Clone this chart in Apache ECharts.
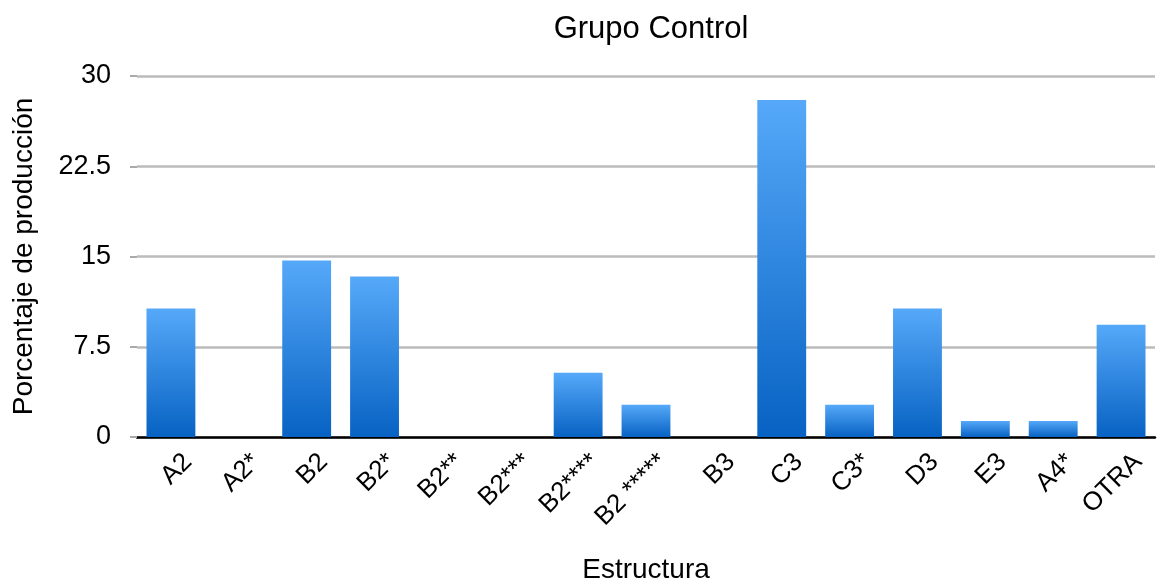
<!DOCTYPE html>
<html>
<head>
<meta charset="utf-8">
<script src="https://cdn.jsdelivr.net/npm/echarts@6/dist/echarts.min.js"></script>
<style>
  html, body { margin: 0; padding: 0; background: #ffffff; }
  #chart { width: 1158px; height: 585px; }
</style>
</head>
<body>
<div id="chart"></div>
<script>
// Structure categories and production share (%) for the control group
const categories = ['A2', 'A2*', 'B2', 'B2*', 'B2**', 'B2***', 'B2****', 'B2 *****', 'B3', 'C3', 'C3*', 'D3', 'E3', 'A4*', 'OTRA'];
const percentages = [10.67, 0, 14.67, 13.33, 0, 0, 5.33, 2.67, 0, 28, 2.67, 10.67, 1.33, 1.33, 9.33];
const yTicks = [0, 7.5, 15, 22.5, 30];

const font = 'Liberation Sans, Arial, sans-serif';
const chart = echarts.init(document.getElementById('chart'), null, { renderer: 'canvas' });

chart.setOption({
  animation: false,
  title: {
    text: 'Grupo Control',
    left: 646,
    top: 9,
    textAlign: 'center',
    textStyle: { fontFamily: font, fontSize: 31, fontWeight: 'normal', color: '#000' }
  },
  grid: { left: 137, right: 3, top: 76, bottom: 148, containLabel: false, outerBoundsMode: 'none' },
  xAxis: {
    type: 'category',
    data: categories,
    name: 'Estructura',
    nameLocation: 'middle',
    nameGap: 119,
    nameTextStyle: { fontFamily: font, fontSize: 28, color: '#000' },
    axisLine: { lineStyle: { color: '#000', width: 2.5 } },
    axisTick: { show: false },
    axisLabel: {
      rotate: 45,
      margin: 4,
      interval: 0,
      fontFamily: font,
      fontSize: 26,
      color: '#000',
      verticalAlign: 'top',
      padding: [11, 0, 0, 0]
    }
  },
  yAxis: {
    type: 'value',
    min: yTicks[0],
    max: yTicks[yTicks.length - 1],
    interval: 7.5,
    name: 'Porcentaje de producción',
    nameLocation: 'middle',
    nameGap: 99,
    nameTextStyle: { fontFamily: font, fontSize: 28, color: '#000' },
    axisLine: { show: false },
    axisTick: { show: true, length: 7, lineStyle: { color: '#aaaaaa', width: 2 } },
    axisLabel: {
      margin: 26,
      fontFamily: font,
      fontSize: 27,
      color: '#000',
      formatter: v => String(v)
    },
    splitLine: { lineStyle: { color: '#bbbbbb', width: 2.5 } }
  },
  series: [{
    type: 'bar',
    data: percentages,
    barCategoryGap: '28%',
    itemStyle: {
      color: new echarts.graphic.LinearGradient(0, 0, 0, 1, [
        { offset: 0, color: '#56a9f9' },
        { offset: 1, color: '#0762c3' }
      ])
    }
  }]
});
</script>
</body>
</html>
